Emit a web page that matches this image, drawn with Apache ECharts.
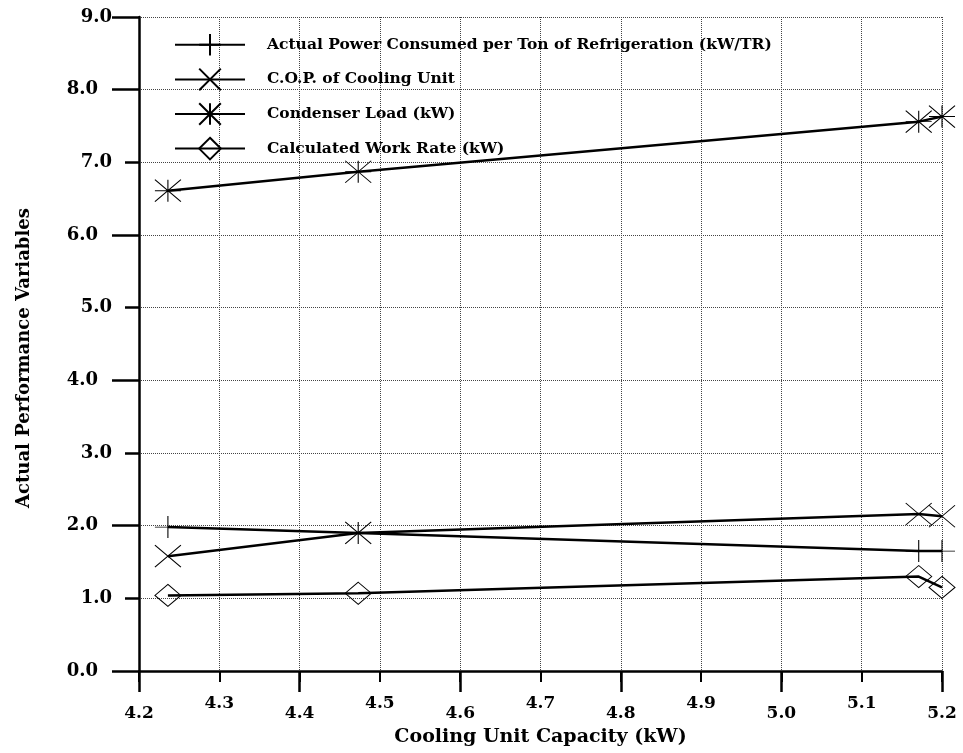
<!DOCTYPE html>
<html>
<head>
<meta charset="utf-8">
<script src="https://cdn.jsdelivr.net/npm/echarts@6/dist/echarts.min.js"></script>
<style>
    html, body { margin: 0; padding: 0; background: #fff; }
    #chart { width: 963px; height: 753px; }
</style>
</head>
<body>
<div id="chart"></div>
<script>
const capacity = [4.236, 4.473, 5.171, 5.2];
const powerPerTon = [1.98, 1.90, 1.65, 1.65];
const copCooling = [1.58, 1.90, 2.16, 2.13];
const condenserLoad = [6.61, 6.87, 7.56, 7.63];
const workRate = [1.04, 1.07, 1.30, 1.15];
const seriesNames = [
    "Actual Power Consumed per Ton of Refrigeration (kW/TR)",
    "C.O.P. of Cooling Unit",
    "Condenser Load (kW)",
    "Calculated Work Rate (kW)"
];

const FONT = "DejaVu Serif";
const chart = echarts.init(document.getElementById("chart"));

function pairs(ys) {
    return capacity.map((x, i) => [x, ys[i]]);
}

function lineSeries(name, ys, symbol) {
    return {
        name: name,
        type: "line",
        data: pairs(ys),
        clip: false,
        symbol: symbol,
        symbolSize: [26, 22],
        showAllSymbol: true,
        lineStyle: {color: "#000", width: 2.5},
        itemStyle: {color: "transparent", borderColor: "#000", borderWidth: 1},
        emphasis: {disabled: true}
    };
}

const labelText = {fontFamily: FONT, fontWeight: "bold", fontSize: 17, color: "#000"};

const option = {
    animation: false,
    backgroundColor: "#fff",
    grid: {left: 139, right: 21, top: 17, bottom: 82},
    legend: {
        orient: "vertical",
        left: 174,
        top: 33,
        padding: 0,
        itemWidth: 70,
        itemHeight: 27,
        itemGap: 11,
        selectedMode: false,
        data: seriesNames,
        textStyle: {fontFamily: FONT, fontWeight: "bold", fontSize: 15.5, color: "#000", padding: [0, 0, 0, 17]}
    },
    xAxis: [
        {
            type: "value",
            min: 4.2,
            max: 5.2,
            interval: 0.1,
            position: "bottom",
            name: "Cooling Unit Capacity (kW)",
            nameLocation: "middle",
            nameGap: 57,
            nameTextStyle: {fontFamily: FONT, fontWeight: "bold", fontSize: 19, color: "#000"},
            axisLine: {lineStyle: {color: "#000", width: 2.5}},
            axisTick: {length: 11, lineStyle: {color: "#000", width: 2}},
            axisLabel: {
                margin: 24,
                formatter: function (v) {
                    const s = v.toFixed(1);
                    return Math.round(v * 10) % 2 === 1 ? "{o|" + s + "}" : "{e|" + s + "}";
                },
                rich: {
                    o: Object.assign({}, labelText),
                    e: Object.assign({padding: [10, 0, 0, 0]}, labelText)
                }
            },
            splitLine: {show: true, lineStyle: {color: "#444", type: "dotted", width: 1}}
        },
        {
            type: "value",
            min: 4.2,
            max: 5.2,
            interval: 0.2,
            position: "bottom",
            axisLine: {show: false},
            axisTick: {length: 21, lineStyle: {color: "#000", width: 2.5}},
            axisLabel: {show: false},
            splitLine: {show: false}
        }
    ],
    yAxis: [
        {
            type: "value",
            min: 0,
            max: 9,
            interval: 1,
            position: "left",
            name: "Actual Performance Variables",
            nameLocation: "middle",
            nameGap: 106,
            nameTextStyle: {fontFamily: FONT, fontWeight: "bold", fontSize: 18, color: "#000", padding: [0, 28, 0, 0]},
            axisLine: {show: true, lineStyle: {color: "#000", width: 2.5}},
            axisTick: {show: true, length: 14, lineStyle: {color: "#000", width: 2.5}},
            axisLabel: Object.assign({
                margin: 27,
                formatter: function (v) {
                    return Math.round(v) % 2 === 1 ? v.toFixed(1) : "";
                }
            }, labelText, {fontSize: 18}),
            splitLine: {show: true, lineStyle: {color: "#444", type: "dotted", width: 1}}
        },
        {
            type: "value",
            min: 0,
            max: 9,
            interval: 2,
            position: "left",
            axisLine: {show: false},
            axisTick: {show: true, length: 27, lineStyle: {color: "#000", width: 2.5}},
            axisLabel: Object.assign({
                margin: 41,
                formatter: function (v) {
                    return Math.round(v) % 2 === 0 ? v.toFixed(1) : "";
                }
            }, labelText, {fontSize: 18}),
            splitLine: {show: false}
        }
    ],
    series: [
        lineSeries(seriesNames[0], powerPerTon, "path://M0,5L10,5M5,0L5,10"),
        lineSeries(seriesNames[1], copCooling, "path://M0,0L10,10M10,0L0,10"),
        lineSeries(seriesNames[2], condenserLoad, "path://M0,0L10,10M10,0L0,10M5,0L5,10M0,5L10,5"),
        lineSeries(seriesNames[3], workRate, "diamond")
    ]
};

chart.setOption(option);
</script>
</body>
</html>
